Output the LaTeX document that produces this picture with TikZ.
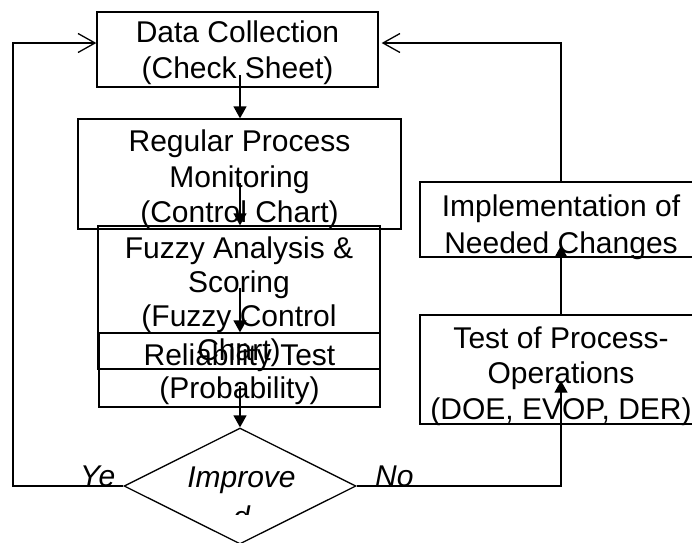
\documentclass[tikz,border=0pt]{standalone}
\usepackage{fontspec}
\setmainfont{Liberation Sans}
\usetikzlibrary{arrows.meta,shapes.geometric,calc}
% invisible strut that sets the height of a box's first text line
\newcommand{\firstline}[1]{\rule{0pt}{#1}}
\begin{document}
\begin{tikzpicture}[x=1pt,y=-1pt,
  box/.style={draw, line width=1.3pt, rectangle, inner sep=0pt, align=center,
              font=\fontsize{30}{35.5}\selectfont},
  arr/.style={line width=1.3pt, -{Triangle[length=12pt,width=13pt]}},
  back/.style={line width=1.3pt, -{Straight Barb[length=17pt,width=19pt,line width=1.3pt]}},
  lbl/.style={font=\fontsize{30}{36}\selectfont\itshape, inner sep=0pt}]
\useasboundingbox (0,0) rectangle (692,542);

% process boxes
\node[box, minimum width=281pt, minimum height=75pt]  (dc)   at (237.5,49.5)
  {\firstline{28.5pt}Data Collection\\(Check Sheet)};
\node[box, minimum width=323pt, minimum height=110pt] (rp)   at (239.5,174)
  {\firstline{32.5pt}Regular Process\\Monitoring\\(Control Chart)};
\node[box, minimum width=282pt, minimum height=143pt, font=\fontsize{30}{34}\selectfont] (fz) at (239,297.5)
  {\firstline{30.5pt}Fuzzy Analysis \&\\Scoring\\(Fuzzy Control\\Chart)};
\node[box, minimum width=281pt, minimum height=74pt, font=\fontsize{30}{33}\selectfont] (rt) at (239.5,370)
  {\firstline{29.5pt}Reliability Test\\(Probability)};
\node[box, minimum width=282pt, minimum height=75pt, font=\fontsize{30}{37}\selectfont] (impl) at (561,219.5)
  {\firstline{30.2pt}Implementation of\\\smash{Needed Changes}};
\node[box, minimum width=282pt, minimum height=109pt] (test) at (561,369.5)
  {\firstline{28.2pt}Test of Process-\\Operations\\\smash{(DOE, EVOP, DER)}};

% decision
\node[diamond, draw, line width=1.3pt, inner sep=0pt, minimum width=232pt, minimum height=116pt] (dec) at (240,486) {};
\begin{scope}
  \clip (0,400) rectangle (692,514);
  \node[lbl, align=center, font=\fontsize{30}{40}\selectfont\itshape] (dectext) at (241.5,497) {Improve\\d};
\end{scope}
\node[lbl, anchor=base west] (yes) at (80,486) {Ye};
\node[lbl, anchor=base west] (no)  at (375,486) {No};

% main flow
\coordinate (s1) at (240,75);
\coordinate (s2) at (240,183);
\coordinate (s3) at (240,288);
\coordinate (s4) at (240,386);
\draw[arr] (s1) -- (s1 |- rp.north);
\draw[arr] (s2) -- (s2 |- fz.north);
\draw[arr] (s3) -- (s3 |- rt.north);
\draw[arr] (s4) -- (dec.north);

% improvement loop
\draw[arr] (dec.east) -| ([yshift=44pt]test.south);
\draw[arr] (test.north) -- ([yshift=12pt]impl.south);
\draw[back] (impl.north) |- ([xshift=3pt,yshift=6.5pt]dc.east);

% return loop
\coordinate (yc) at (13,486);
\draw[back] (dec.west) -- (yc) |- ([yshift=6.5pt]dc.west);
\end{tikzpicture}
\end{document}
